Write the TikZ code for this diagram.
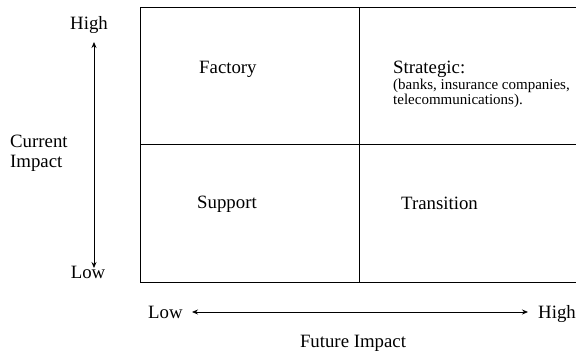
\documentclass[tikz,border=0pt]{standalone}
\usepackage{fontspec}
\setmainfont{Liberation Serif}
\usetikzlibrary{arrows.meta}

\begin{document}
\begin{tikzpicture}[x=1pt,y=1pt,yscale=-1,
  lbl/.style={inner sep=0pt,font=\fontsize{18.8}{20}\selectfont},
  note/.style={inner sep=0pt,align=left,font=\fontsize{15}{15}\selectfont},
  grid/.style={line width=0.9pt},
  axis/.style={line width=0.8pt,{Stealth[length=6pt,width=5pt]}-{Stealth[length=6pt,width=5pt]}}]
\clip (0,0) rectangle (576,354);

%Matrix: outer box (runs past the right edge)
\draw [grid] (140,7) rectangle (600,282);
%Matrix: middle lines
\draw [grid] (359,7) -- (359,282);
\draw [grid] (140,144) -- (600,144);

% Quadrant labels
\node (factory) [lbl,anchor=base west] at (199,73) {Factory};
\node (strat) [lbl,anchor=base west] at (393,73.5) {Strategic:};
\node (stratnote) [note,anchor=base west] at (393,104) {(banks, insurance companies,\\telecommunications).};
\node (support) [lbl,anchor=base west] at (197,208) {Support};
\node (trans) [lbl,anchor=base west] at (401,209) {Transition};

%Axis: current impact
\coordinate (curhi) at (94,42);
\coordinate (curlo) at (94,268);
\draw [axis] (curhi) -- (curlo);
\node (curhigh) [lbl,anchor=base] at (89,29) {High};
\node (curlow) [lbl,anchor=base] at (88,278) {Low};
\node (curname) [lbl,anchor=base west,align=left] at (10,167) {Current\\Impact};

%Axis: future impact
\coordinate (futlo) at (192,312);
\coordinate (futhi) at (528,312);
\draw [axis] (futlo) -- (futhi);
\node (futlow) [lbl,anchor=base west] at (148,318) {Low};
\node (futhigh) [lbl,anchor=base west] at (538,318) {High};
\node (futname) [lbl,anchor=base] at (353,347) {Future Impact};

\end{tikzpicture}
\end{document}
